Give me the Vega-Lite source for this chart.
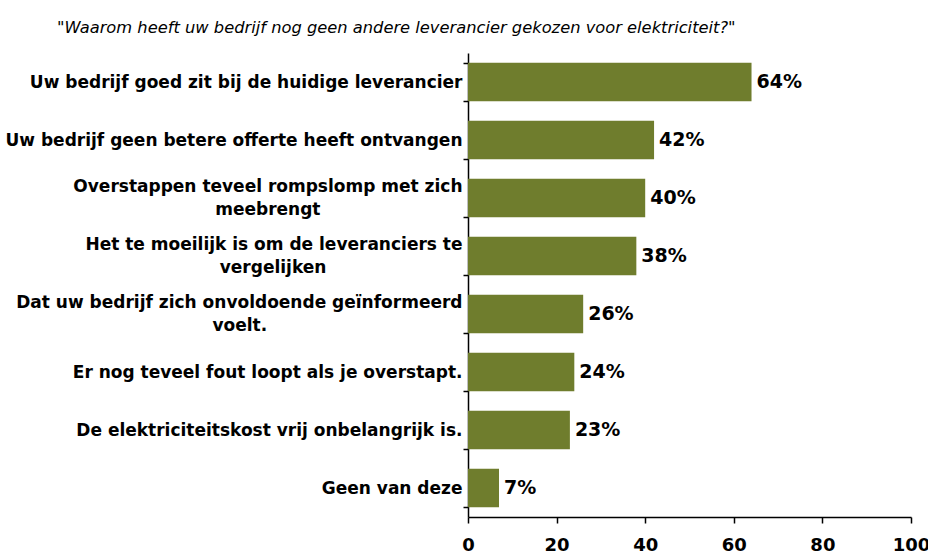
{
  "$schema": "https://vega.github.io/schema/vega-lite/v6.json",
  "width": 443,
  "height": 464,
  "autosize": {"type": "none"},
  "padding": {"left": 468, "top": 53, "right": 17, "bottom": 37},
  "background": "white",
  "title": {
    "text": "\"Waarom heeft uw bedrijf nog geen andere leverancier gekozen voor elektriciteit?\"",
    "anchor": "start",
    "frame": "group",
    "dx": -411,
    "offset": 8,
    "font": "DejaVu Sans",
    "fontStyle": "italic",
    "fontWeight": "normal",
    "fontSize": 16.3,
    "color": "black"
  },
  "config": {"view": {"stroke": null}},
  "data": {
    "values": [
      {"reason": "Uw bedrijf goed zit bij de huidige leverancier", "pct": 64},
      {"reason": "Uw bedrijf geen betere offerte heeft ontvangen", "pct": 42},
      {"reason": "Overstappen teveel rompslomp met zich|meebrengt", "pct": 40},
      {"reason": "Het te moeilijk is om de leveranciers te|vergelijken", "pct": 38},
      {"reason": "Dat uw bedrijf zich onvoldoende geïnformeerd|voelt.", "pct": 26},
      {"reason": "Er nog teveel fout loopt als je overstapt.", "pct": 24},
      {"reason": "De elektriciteitskost vrij onbelangrijk is.", "pct": 23},
      {"reason": "Geen van deze", "pct": 7}
    ]
  },
  "transform": [{"calculate": "datum.pct + '%'", "as": "lbl"}],
  "encoding": {
    "y": {
      "field": "reason",
      "type": "nominal",
      "sort": null,
      "scale": {"paddingInner": 0.34, "paddingOuter": 0.17},
      "axis": {
        "title": null,
        "domainColor": "black",
        "domainWidth": 1.5,
        "tickColor": "black",
        "tickWidth": 1.5,
        "tickBand": "extent",
        "tickSize": 5,
        "labelFont": "DejaVu Sans",
        "labelFontWeight": "bold",
        "labelFontSize": 17,
        "labelColor": "black",
        "labelLimit": 0,
        "labelPadding": 1,
        "labelLineHeight": 11.5,
        "labelOffset": -11.5,
        "labelExpr": "indexof(datum.label, '|') < 0 ? ['\u200b', datum.label] : [split(datum.label, '|')[0], '\u200b', split(datum.label, '|')[1] + (indexof(datum.label, 'Overstappen') >= 0 ? '\u00a0\u00a0\u00a0\u00a0\u00a0\u00a0\u00a0\u00a0\u00a0\u00a0\u00a0\u00a0\u00a0\u00a0\u00a0\u00a0\u00a0\u00a0\u00a0\u00a0\u00a0\u00a0\u00a0\u00a0' : indexof(datum.label, 'moeilijk') >= 0 ? '\u00a0\u00a0\u00a0\u00a0\u00a0\u00a0\u00a0\u00a0\u00a0\u00a0\u00a0\u00a0\u00a0\u00a0\u00a0\u00a0\u00a0\u00a0\u00a0\u00a0\u00a0\u00a0\u00a0' : '\u00a0\u00a0\u00a0\u00a0\u00a0\u00a0\u00a0\u00a0\u00a0\u00a0\u00a0\u00a0\u00a0\u00a0\u00a0\u00a0\u00a0\u00a0\u00a0\u00a0\u00a0\u00a0\u00a0\u00a0\u00a0\u00a0\u00a0\u00a0\u00a0\u00a0\u00a0\u00a0\u00a0') + '\u200b']"
      }
    },
    "x": {
      "field": "pct",
      "type": "quantitative",
      "scale": {"domain": [0, 100]},
      "axis": {
        "title": null,
        "values": [0, 20, 40, 60, 80, 100],
        "grid": false,
        "domainColor": "black",
        "domainWidth": 1.5,
        "tickColor": "black",
        "tickWidth": 1.5,
        "tickSize": 6,
        "labelFont": "DejaVu Sans",
        "labelFontWeight": "bold",
        "labelFontSize": 18,
        "labelColor": "black",
        "labelPadding": 13,
        "labelFlush": false
      }
    }
  },
  "layer": [
    {"mark": {"type": "bar", "color": "#6F7D2D"}},
    {
      "mark": {"type": "text", "align": "left", "baseline": "middle", "dx": 5, "font": "DejaVu Sans", "fontWeight": "bold", "fontSize": 19, "color": "black"},
      "encoding": {"text": {"field": "lbl"}}
    }
  ]
}
